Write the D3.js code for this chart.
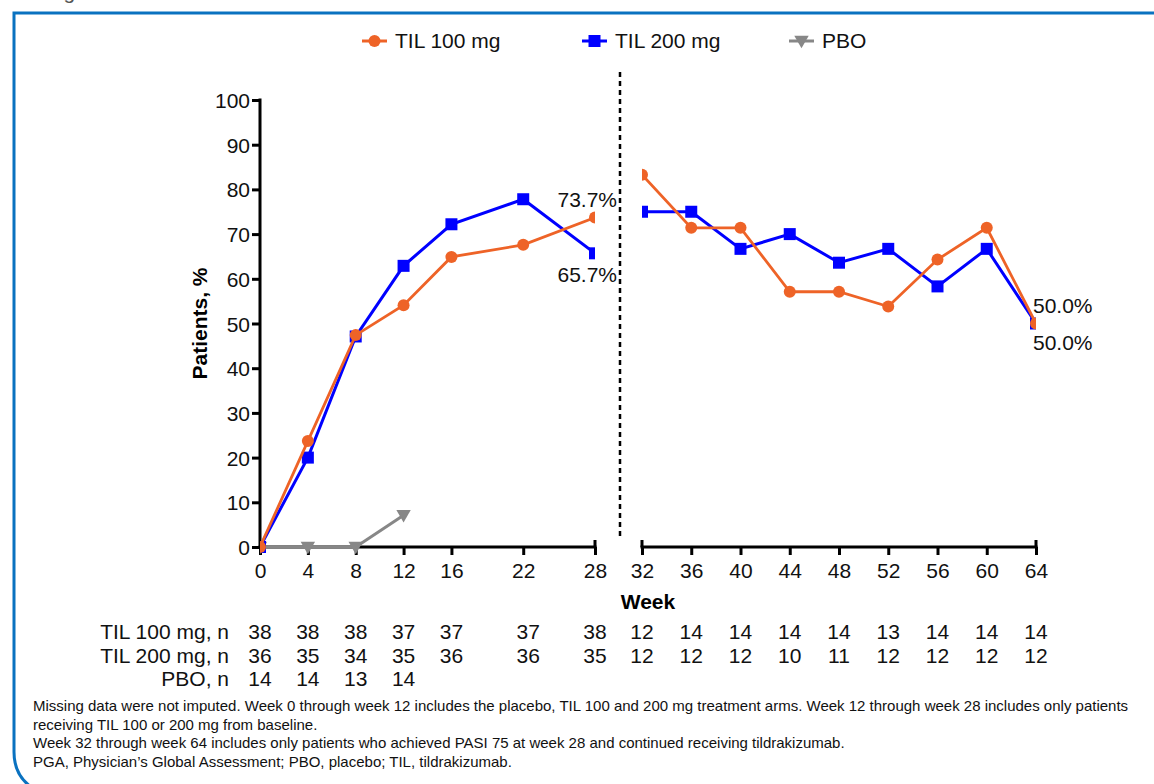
<!DOCTYPE html>
<html>
<head>
<meta charset="utf-8">
<script src="https://cdn.jsdelivr.net/npm/d3@7"></script>
<style>
  body { margin: 0; background: #fff; }
  svg { display: block; font-family: 'Liberation Sans', Arial, sans-serif; }
</style>
</head>
<body>
<div id="app"></div>
<script>
const weeksA = [0, 4, 8, 12, 16, 22, 28];
const weeksB = [32, 36, 40, 44, 48, 52, 56, 60, 64];
const til100A = [0, 23.7, 47.4, 54.1, 64.9, 67.6, 73.7];
const til200A = [0, 20.0, 47.1, 62.9, 72.2, 77.8, 65.7];
const til100B = [83.3, 71.4, 71.4, 57.1, 57.1, 53.8, 64.3, 71.4, 50.0];
const til200B = [75.0, 75.0, 66.7, 70.0, 63.6, 66.7, 58.3, 66.7, 50.0];
const pboWeeks = [0, 4, 8, 12];
const pbo = [0, 0, 0, 7.1];

const yTicks = [0, 10, 20, 30, 40, 50, 60, 70, 80, 90, 100];

const nTil100 = [38, 38, 38, 37, 37, 37, 38, 12, 14, 14, 14, 14, 13, 14, 14, 14];
const nTil200 = [36, 35, 34, 35, 36, 36, 35, 12, 12, 12, 10, 11, 12, 12, 12, 12];
const nPbo = [14, 14, 13, 14];

const footnotes = [
  'Missing data were not imputed. Week 0 through week 12 includes the placebo, TIL 100 and 200 mg treatment arms. Week 12 through week 28 includes only patients',
  'receiving TIL 100 or 200 mg from baseline.',
  'Week 32 through week 64 includes only patients who achieved PASI 75 at week 28 and continued receiving tildrakizumab.',
  'PGA, Physician\u2019s Global Assessment; PBO, placebo; TIL, tildrakizumab.'
];

const ORANGE = '#ee6327', BLUE = '#0000ff', GRAY = '#878787';
const FS = '21px';

const svg = d3.select('#app').append('svg')
  .attr('width', 1154)
  .attr('height', 784);

// frame of the slide panel
svg.append('path')
  .attr('d', 'M1160,13 H14 V752 Q14,778 36,790')
  .attr('fill', 'none')
  .attr('stroke', '#0a72c0')
  .attr('stroke-width', 3);

svg.append('text')
  .attr('x', 46).attr('y', -1)
  .style('font-size', FS)
  .attr('fill', '#555')
  .text('Fig');

const xL = d3.scaleLinear().domain([0, 28]).range([260, 595]);
const xR = d3.scaleLinear().domain([32, 64]).range([642, 1036]);
const y = d3.scaleLinear().domain([0, 100]).range([547, 100]);

// y axis
const gy = svg.append('g')
  .attr('transform', 'translate(260,0)')
  .call(d3.axisLeft(y).tickValues(yTicks).tickSize(8).tickPadding(2).tickSizeOuter(0));
gy.select('.domain').attr('stroke-width', 3).attr('d', 'M0,' + (y(0) + 1.5) + 'V' + (y(100) - 1.5));
gy.selectAll('.tick line').attr('stroke-width', 3);
gy.selectAll('.tick text').style('font-size', FS).attr('fill', '#111').attr('dy', '0.36em');

// x axes, two segments
function xAxis(scale, ticks) {
  const g = svg.append('g')
    .attr('transform', 'translate(0,' + y(0) + ')')
    .call(d3.axisBottom(scale).tickValues(ticks).tickSize(8).tickPadding(8).tickSizeOuter(0));
  g.select('.domain').attr('stroke-width', 3)
    .attr('d', 'M' + (scale.range()[0] - 1.5) + ',0H' + (scale.range()[1] + 1.5));
  g.selectAll('.tick line').attr('stroke-width', 3);
  g.selectAll('.tick text').style('font-size', FS).attr('fill', '#111');
  return g;
}
xAxis(xL, weeksA);
xAxis(xR, weeksB);

// end caps
[xL(28), xR(32), xR(64)].forEach(cx => {
  svg.append('line')
    .attr('x1', cx).attr('x2', cx)
    .attr('y1', y(0) - 7).attr('y2', y(0))
    .attr('stroke', '#000').attr('stroke-width', 3);
});

// divider
svg.append('line')
  .attr('x1', 620).attr('x2', 620)
  .attr('y1', 72).attr('y2', 537)
  .attr('stroke', '#000')
  .attr('stroke-width', 2.5)
  .attr('stroke-dasharray', '5,4');

// clip paths per segment
const defs = svg.append('defs');
defs.append('clipPath').attr('id', 'clipA').append('rect')
  .attr('x', xL(0)).attr('y', 60).attr('width', xL(28) - xL(0)).attr('height', 500);
defs.append('clipPath').attr('id', 'clipB').append('rect')
  .attr('x', xR(32)).attr('y', 60).attr('width', xR(64) - xR(32)).attr('height', 500);

const tri = d3.symbol().type(d3.symbolTriangle).size(90);

function series(clip, scale, weeks, vals, color, width, marker) {
  const g = svg.append('g').attr('clip-path', 'url(#' + clip + ')');
  const pts = weeks.map((w, i) => [scale(w), y(vals[i])]);
  g.append('path')
    .attr('d', d3.line()(pts))
    .attr('fill', 'none')
    .attr('stroke', color)
    .attr('stroke-width', width);
  pts.forEach(p => drawMarker(g, p[0], p[1], color, marker));
}

function drawMarker(g, cx, cy, color, marker) {
  if (marker === 'circle') {
    g.append('circle').attr('cx', cx).attr('cy', cy).attr('r', 6).attr('fill', color);
  } else if (marker === 'square') {
    g.append('rect').attr('x', cx - 6).attr('y', cy - 6).attr('width', 12).attr('height', 12).attr('fill', color);
  } else {
    g.append('path').attr('d', tri)
      .attr('transform', 'translate(' + cx + ',' + (cy - 1) + ') rotate(180)')
      .attr('fill', color);
  }
}

series('clipA', xL, pboWeeks, pbo, GRAY, 3, 'tri');
series('clipA', xL, weeksA, til200A, BLUE, 3, 'square');
series('clipA', xL, weeksA, til100A, ORANGE, 2.8, 'circle');
series('clipB', xR, weeksB, til200B, BLUE, 3, 'square');
series('clipB', xR, weeksB, til100B, ORANGE, 2.8, 'circle');

// end labels
const endLabels = [
  { x: xL(28) + 22, y: y(til100A[6]) - 11, anchor: 'end', t: '73.7%' },
  { x: xL(28) + 22, y: y(til200A[6]) + 29, anchor: 'end', t: '65.7%' },
  { x: xR(64) - 3, y: y(50) - 11, anchor: 'start', t: '50.0%' },
  { x: xR(64) - 3, y: y(50) + 26, anchor: 'start', t: '50.0%' }
];
svg.selectAll('.endlab').data(endLabels).enter().append('text')
  .attr('class', 'endlab')
  .attr('x', d => d.x).attr('y', d => d.y)
  .attr('text-anchor', d => d.anchor)
  .style('font-size', FS)
  .attr('fill', '#111')
  .text(d => d.t);

// axis titles
svg.append('text')
  .attr('transform', 'translate(207,' + y(50) + ') rotate(-90)')
  .attr('text-anchor', 'middle')
  .style('font-size', FS).style('font-weight', 'bold')
  .text('Patients, %');

svg.append('text')
  .attr('x', 648).attr('y', 609)
  .attr('text-anchor', 'middle')
  .style('font-size', FS).style('font-weight', 'bold')
  .text('Week');

// legend
const legend = [
  { x: 362, label: 'TIL 100 mg', color: ORANGE, marker: 'circle' },
  { x: 582, label: 'TIL 200 mg', color: BLUE, marker: 'square' },
  { x: 789, label: 'PBO', color: GRAY, marker: 'tri' }
];
legend.forEach(d => {
  const g = svg.append('g');
  g.append('line')
    .attr('x1', d.x).attr('x2', d.x + 25)
    .attr('y1', 41).attr('y2', 41)
    .attr('stroke', d.color).attr('stroke-width', 3);
  drawMarker(g, d.x + 12.5, 41, d.color, d.marker);
  g.append('text')
    .attr('x', d.x + 33).attr('y', 48)
    .style('font-size', FS)
    .attr('fill', '#111')
    .text(d.label);
});

// numbers at risk
const allWeeks = weeksA.concat(weeksB);
const xAny = w => (w <= 28 ? xL(w) : xR(w));
const rows = [
  { label: 'TIL 100 mg, n', vals: nTil100, yy: 639 },
  { label: 'TIL 200 mg, n', vals: nTil200, yy: 663 },
  { label: 'PBO, n', vals: nPbo, yy: 686 }
];
rows.forEach(r => {
  svg.append('text')
    .attr('x', 229).attr('y', r.yy)
    .attr('text-anchor', 'end')
    .style('font-size', FS).attr('fill', '#111')
    .text(r.label);
  r.vals.forEach((v, i) => {
    const w = allWeeks[i];
    svg.append('text')
      .attr('x', xAny(w) + (w === 22 ? 5 : 0)).attr('y', r.yy)
      .attr('text-anchor', 'middle')
      .style('font-size', FS).attr('fill', '#111')
      .text(v);
  });
});

// footnotes
footnotes.forEach((t, i) => {
  svg.append('text')
    .attr('x', 33).attr('y', 711 + i * 18.7)
    .style('font-size', '15px')
    .attr('fill', '#111')
    .text(t);
});
</script>
</body>
</html>
